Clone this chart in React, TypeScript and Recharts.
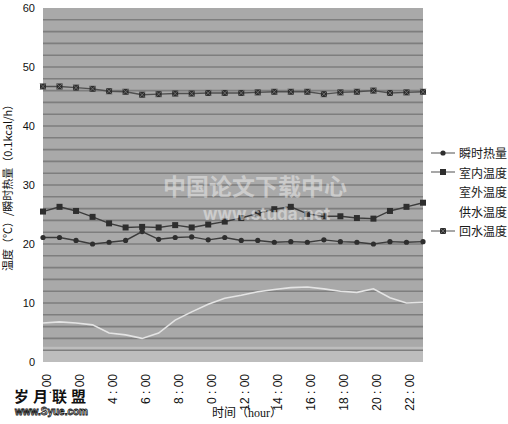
import React from 'react'
import {
  LineChart,
  Line,
  XAxis,
  YAxis,
  ReferenceArea,
  ReferenceLine,
  Legend,
} from 'recharts'

// hourly samples, 0:00 .. 23:00
const HOURS = [0, 1, 2, 3, 4, 5, 6, 7, 8, 9, 10, 11, 12, 13, 14, 15, 16, 17, 18, 19, 20, 21, 22, 23]

// labels as they appear under every second hour (first digits are missing in the source)
const HOUR_LABELS: Record<number, string> = {
  0: ' : 00',
  2: ' : 00',
  4: '4 : 00',
  6: '6 : 00',
  8: '8 : 00',
  10: '0 : 00',
  12: '12 : 00',
  14: '14 : 00',
  16: '16 : 00',
  18: '18 : 00',
  20: '20 : 00',
  22: '22 : 00',
}

const HEAT = [21.1, 21.1, 20.6, 20.0, 20.3, 20.6, 22.1, 20.8, 21.1, 21.2, 20.7, 21.1, 20.6, 20.6, 20.3, 20.4, 20.3, 20.7, 20.4, 20.3, 20.0, 20.4, 20.3, 20.4]
const INDOOR = [25.5, 26.3, 25.6, 24.6, 23.5, 22.8, 22.9, 22.8, 23.2, 22.8, 23.3, 23.8, 24.4, 25.2, 25.9, 26.3, 25.1, 24.7, 24.7, 24.4, 24.3, 25.6, 26.3, 27.0]
const OUTDOOR = [6.6, 6.8, 6.6, 6.3, 4.9, 4.6, 4.0, 4.9, 7.1, 8.5, 9.8, 10.8, 11.3, 11.9, 12.3, 12.6, 12.7, 12.4, 12.0, 11.8, 12.4, 10.9, 10.0, 10.1]
const RETURN = [46.7, 46.7, 46.5, 46.3, 45.9, 45.8, 45.3, 45.4, 45.5, 45.5, 45.6, 45.6, 45.6, 45.7, 45.8, 45.8, 45.8, 45.4, 45.7, 45.8, 46.0, 45.6, 45.7, 45.8]

const Y_TICKS = [0, 10, 20, 30, 40, 50, 60]
const GRID_VALUES = [2, 4, 6, 8, 10, 12, 14, 16, 18, 20, 22, 24, 26, 28, 30, 32, 34, 36, 38, 40, 42, 44, 46, 48, 50, 52, 54, 56, 58]

const data = HOURS.map((h, i) => ({
  hour: h,
  heat: HEAT[i],
  indoor: INDOOR[i],
  outdoor: OUTDOOR[i],
  ret: RETURN[i],
}))

const DARK = '#2e2e2e'
const TICK_FONT = "'Liberation Sans', Arial, sans-serif"
const CJK_FONT = "'Noto Sans CJK SC', sans-serif"

const RoundDot = ({ cx, cy }: any) =>
  cx == null ? null : <circle cx={cx} cy={cy} r={2.6} fill={DARK} />

const SquareDot = ({ cx, cy }: any) =>
  cx == null ? null : <rect x={cx - 3} y={cy - 3} width={6} height={6} fill={DARK} />

const StarDot = ({ cx, cy }: any) =>
  cx == null ? null : (
    <g>
      <rect x={cx - 3} y={cy - 3} width={6} height={6} fill={DARK} />
      <path d={`M${cx - 3},${cy - 3}L${cx + 3},${cy + 3}M${cx + 3},${cy - 3}L${cx - 3},${cy + 3}`} stroke="#777" strokeWidth={0.8} />
    </g>
  )

const SERIES = [
  { key: 'heat', name: '瞬时热量', stroke: '#3c3c3c', icon: '#8a8a8a', Dot: RoundDot },
  { key: 'indoor', name: '室内温度', stroke: '#3c3c3c', icon: '#8a8a8a', Dot: SquareDot },
  { key: 'outdoor', name: '室外温度', stroke: '#e4e4e4', icon: '#ffffff', Dot: null },
  { key: 'supply', name: '供水温度', stroke: '#ffffff', icon: '#ffffff', Dot: null },
  { key: 'ret', name: '回水温度', stroke: '#505050', icon: '#8a8a8a', Dot: StarDot },
]

const XTick = ({ x, y, payload }: any) => {
  const label = HOUR_LABELS[payload.value]
  if (!label) return null
  return (
    <text
      x={x + 4}
      y={y + 4}
      transform={`rotate(-90, ${x + 4}, ${y + 4})`}
      textAnchor="end"
      dominantBaseline="central"
      fontSize={12}
      fontFamily={TICK_FONT}
      fill="#111"
      style={{ whiteSpace: 'pre' }}
    >
      {label}
    </text>
  )
}

const renderLegend = () => (
  <div style={{ fontFamily: CJK_FONT, fontSize: 12, color: '#1a1a1a' }}>
    {SERIES.map((s) => (
      <div key={s.key} style={{ display: 'flex', alignItems: 'center', height: 19.5 }}>
        <svg width={27} height={10} style={{ marginRight: 2 }}>
          <line x1={1} y1={5} x2={25} y2={5} stroke={s.icon} strokeWidth={1.5} />
          {s.Dot && s.icon !== '#ffffff' ? <s.Dot cx={13} cy={5} /> : null}
        </svg>
        <span>{s.name}</span>
      </div>
    ))}
  </div>
)

export default function App() {
  return (
    <div style={{ position: 'absolute', left: 0, top: 0, width: 508, height: 424, background: '#fff' }}>
      <LineChart
        width={508}
        height={424}
        data={data}
        margin={{ top: 8, right: 85, bottom: 5, left: 0 }}
      >
        <ReferenceArea y1={0} y2={60} fill="#a9a9a9" fillOpacity={1} stroke="none" />
        <ReferenceArea y1={0} y2={2.6} fill="#bdbdbd" fillOpacity={1} stroke="none" />
        {GRID_VALUES.map((v) => (
          <ReferenceLine key={v} y={v} stroke="#7e7e7e" strokeWidth={1.6} />
        ))}
        <XAxis
          dataKey="hour"
          type="category"
          interval={0}
          height={57}
          axisLine={false}
          tickLine={false}
          tick={<XTick />}
          label={{
            value: '时间（hour）',
            position: 'insideBottom',
            offset: 2,
            dx: 14,
            style: { fontFamily: "'Liberation Serif', 'Noto Sans CJK SC', serif", fontSize: 12, fill: '#111' },
          }}
        />
        <YAxis
          domain={[0, 60]}
          ticks={Y_TICKS}
          width={43}
          axisLine={false}
          tickLine={false}
          tick={{ fontSize: 11, fontFamily: TICK_FONT, fill: '#111' }}
          label={{
            value: '温度（℃）/瞬时热量（0.1kcal/h）',
            angle: -90,
            position: 'insideLeft',
            offset: 8,
            style: { textAnchor: 'middle', fontFamily: CJK_FONT, fontSize: 11, fill: '#111' },
          }}
        />
        {SERIES.map((s) => (
          <Line
            key={s.key}
            dataKey={s.key}
            name={s.name}
            stroke={s.stroke}
            strokeWidth={s.key === 'outdoor' ? 1.6 : 1.4}
            dot={s.Dot ? (p: any) => <s.Dot key={`${s.key}-${p.index}`} {...p} /> : false}
            activeDot={false}
            isAnimationActive={false}
          />
        ))}
        <Legend
          layout="horizontal"
          verticalAlign="middle"
          content={renderLegend}
          wrapperStyle={{ left: 430, top: 143, width: 78 }}
        />
      </LineChart>

      {/* watermarks present in the source image */}
      <div
        style={{
          position: 'absolute', left: 163, top: 172, fontFamily: CJK_FONT, fontWeight: 700,
          fontSize: 23, lineHeight: '26px', color: 'rgba(235,235,235,0.55)', whiteSpace: 'nowrap',
        }}
      >
        中国论文下载中心
      </div>
      <div
        style={{
          position: 'absolute', left: 203, top: 205, fontFamily: 'Inter, sans-serif', fontWeight: 700,
          fontSize: 17, lineHeight: '18px', color: 'rgba(235,235,235,0.55)', whiteSpace: 'nowrap',
        }}
      >
        www.studa.net
      </div>
      <div
        style={{
          position: 'absolute', left: 14, top: 388, fontFamily: CJK_FONT, fontWeight: 700,
          fontSize: 15, lineHeight: '16px', color: '#111', letterSpacing: 4, whiteSpace: 'nowrap',
        }}
      >
        岁月联盟
      </div>
      <div
        style={{
          position: 'absolute', left: 15, top: 406, fontFamily: 'Arial, sans-serif', fontWeight: 700,
          fontSize: 10, lineHeight: '11px', color: '#fff', WebkitTextStroke: '0.8px #111', whiteSpace: 'nowrap',
        }}
      >
        www.Syue.com
      </div>
    </div>
  )
}
